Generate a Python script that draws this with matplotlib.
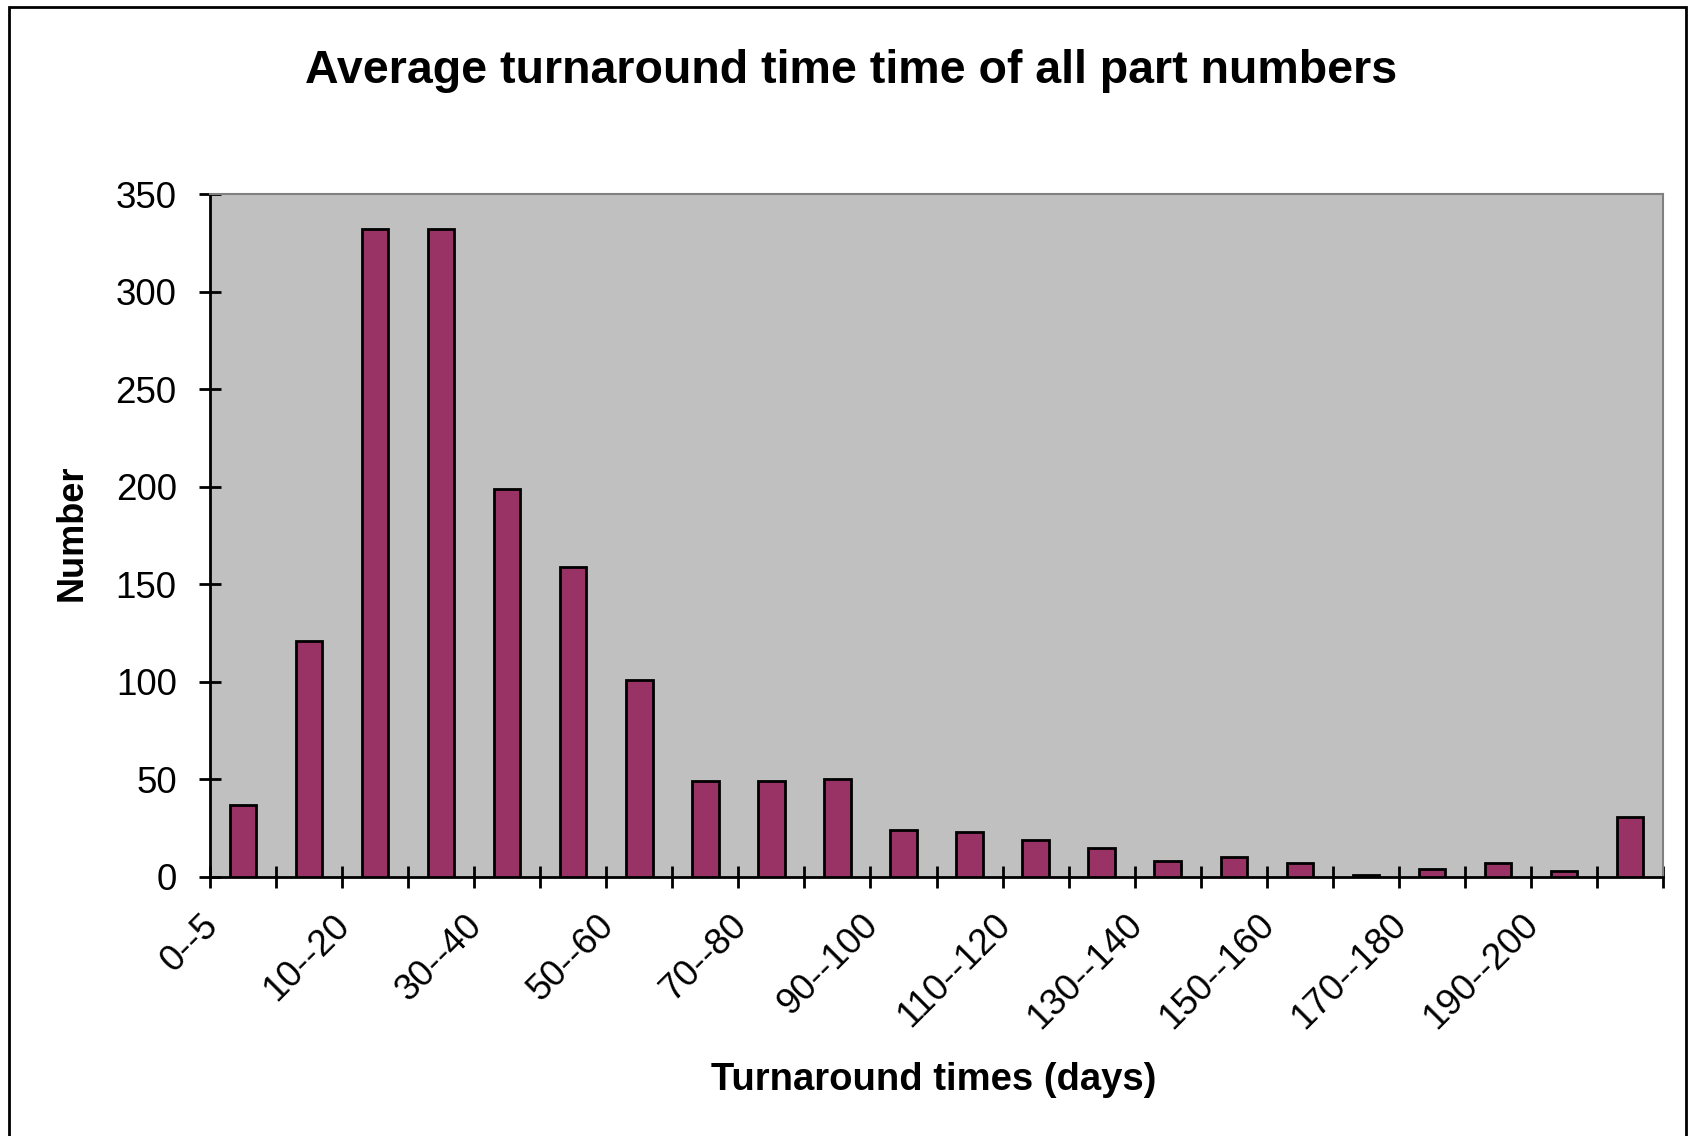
import matplotlib
matplotlib.use("Agg")
import matplotlib.pyplot as plt
import matplotlib.transforms as mtransforms
from matplotlib.patches import Rectangle
import numpy as np

# Turnaround time bins and part counts
bins = [
    "0--5", "5--10", "10--20", "20--30", "30--40", "40--50", "50--60",
    "60--70", "70--80", "80--90", "90--100", "100--110", "110--120",
    "120--130", "130--140", "140--150", "150--160", "160--170",
    "170--180", "180--190", "190--200", ">200",
]
counts = [37, 121, 332, 332, 199, 159, 101, 49, 49, 50, 24, 23, 19,
          15, 8, 10, 7, 1, 4, 7, 3, 31]
y_ticks = [0, 50, 100, 150, 200, 250, 300, 350]

plt.rcParams["font.family"] = ["Liberation Sans", "DejaVu Sans"]

fig = plt.figure(figsize=(16.88, 11.36), dpi=100)
ax = fig.add_axes([0.1244, 0.228, 0.8608, 0.6012])
ax.set_facecolor("#C0C0C0")

x = np.arange(len(bins))
ax.bar(x, counts, width=0.4, color="#993366", edgecolor="black",
       linewidth=2, zorder=3)

ax.set_xlim(-0.5, len(bins) - 0.5)
ax.set_ylim(0, 350)

# major x ticks sit on the bin boundaries, labels on every other bin
ax.set_xticks(np.arange(-0.5, len(bins), 1.0))
ax.set_xticklabels([])
ax.set_xticks(x[::2], minor=True)
ax.set_xticklabels(bins[::2], minor=True, rotation=45, ha="right",
                   va="top", fontsize=26.5)
ax.tick_params(axis="x", which="major", direction="inout", length=16,
               width=2)
ax.tick_params(axis="x", which="minor", length=0, pad=22)
offset = mtransforms.ScaledTranslation(-18 / 100, 0, fig.dpi_scale_trans)
for lbl in ax.get_xticklabels(minor=True):
    lbl.set_transform(lbl.get_transform() + offset)

ax.set_yticks(y_ticks)
ax.set_yticklabels([str(v) for v in y_ticks], fontsize=26.5)
ax.tick_params(axis="y", direction="inout", length=16, width=2, pad=16)

for side in ["left", "bottom"]:
    ax.spines[side].set_linewidth(2)
    ax.spines[side].set_color("black")
for side in ["top", "right"]:
    ax.spines[side].set_linewidth(1.5)
    ax.spines[side].set_color("#808080")

fig.text(0.504, 0.9375, "Average turnaround time time of all part numbers",
         ha="center", va="center", fontsize=33.5, fontweight="bold")
fig.text(0.043, 0.531, "Number", ha="center", va="center", rotation=90,
         fontsize=26, fontweight="bold")
fig.text(0.553, 0.049, "Turnaround times (days)", ha="center", va="center",
         fontsize=27.5, fontweight="bold")

# outer chart frame
fig.patches.append(Rectangle((0.0053, -0.01), 0.9935, 1.0038,
                             transform=fig.transFigure, fill=False,
                             edgecolor="black", linewidth=2))

fig.savefig("out.png", dpi=100)
